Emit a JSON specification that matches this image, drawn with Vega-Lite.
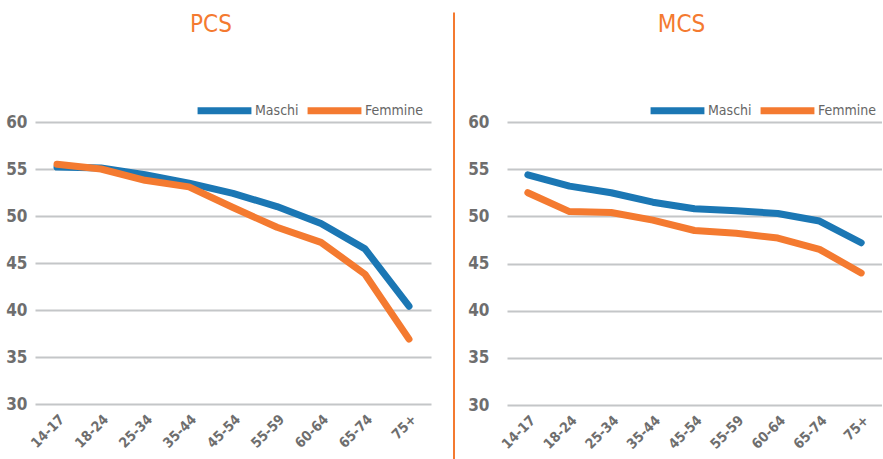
{
  "$schema": "https://vega.github.io/schema/vega-lite/v6.json",
  "padding": {"left": 5, "top": 11, "right": 0, "bottom": 0},
  "background": "white",
  "spacing": 22,
  "config": {
    "font": "DejaVu Sans Condensed, Roboto",
    "view": {"stroke": null},
    "axis": {"labelFont": "DejaVu Sans Condensed, Roboto", "labelColor": "#6e6e6e", "labelFontWeight": "bold", "title": null, "domain": false, "ticks": false},
    "legend": {"labelFont": "DejaVu Sans Condensed, Roboto"},
    "title": {"font": "DejaVu Sans Condensed, Roboto", "color": "#F47A30", "fontSize": 24, "fontWeight": "normal", "baseline": "alphabetic"}
  },
  "datasets": {
    "pcs": [
      {"eta": "14-17", "sesso": "Maschi", "valore": 55.2},
      {"eta": "18-24", "sesso": "Maschi", "valore": 55.1},
      {"eta": "25-34", "sesso": "Maschi", "valore": 54.4},
      {"eta": "35-44", "sesso": "Maschi", "valore": 53.5},
      {"eta": "45-54", "sesso": "Maschi", "valore": 52.4},
      {"eta": "55-59", "sesso": "Maschi", "valore": 51.0},
      {"eta": "60-64", "sesso": "Maschi", "valore": 49.2},
      {"eta": "65-74", "sesso": "Maschi", "valore": 46.5},
      {"eta": "75+", "sesso": "Maschi", "valore": 40.4},
      {"eta": "14-17", "sesso": "Femmine", "valore": 55.5},
      {"eta": "18-24", "sesso": "Femmine", "valore": 55.0},
      {"eta": "25-34", "sesso": "Femmine", "valore": 53.8},
      {"eta": "35-44", "sesso": "Femmine", "valore": 53.1},
      {"eta": "45-54", "sesso": "Femmine", "valore": 50.9},
      {"eta": "55-59", "sesso": "Femmine", "valore": 48.8},
      {"eta": "60-64", "sesso": "Femmine", "valore": 47.2},
      {"eta": "65-74", "sesso": "Femmine", "valore": 43.8},
      {"eta": "75+", "sesso": "Femmine", "valore": 36.9}
    ],
    "mcs": [
      {"eta": "14-17", "sesso": "Maschi", "valore": 54.4},
      {"eta": "18-24", "sesso": "Maschi", "valore": 53.2},
      {"eta": "25-34", "sesso": "Maschi", "valore": 52.5},
      {"eta": "35-44", "sesso": "Maschi", "valore": 51.5},
      {"eta": "45-54", "sesso": "Maschi", "valore": 50.8},
      {"eta": "55-59", "sesso": "Maschi", "valore": 50.6},
      {"eta": "60-64", "sesso": "Maschi", "valore": 50.3},
      {"eta": "65-74", "sesso": "Maschi", "valore": 49.5},
      {"eta": "75+", "sesso": "Maschi", "valore": 47.2},
      {"eta": "14-17", "sesso": "Femmine", "valore": 52.5},
      {"eta": "18-24", "sesso": "Femmine", "valore": 50.5},
      {"eta": "25-34", "sesso": "Femmine", "valore": 50.4},
      {"eta": "35-44", "sesso": "Femmine", "valore": 49.6},
      {"eta": "45-54", "sesso": "Femmine", "valore": 48.5},
      {"eta": "55-59", "sesso": "Femmine", "valore": 48.2},
      {"eta": "60-64", "sesso": "Femmine", "valore": 47.7},
      {"eta": "65-74", "sesso": "Femmine", "valore": 46.5},
      {"eta": "75+", "sesso": "Femmine", "valore": 44.0}
    ],
    "separatore": [{"pos": 0, "top": 71.6, "bottom": 23.5}]
  },
  "resolve": {"scale": {"color": "independent", "x": "independent", "y": "independent"}, "legend": {"color": "independent"}},
  "hconcat": [
    {
      "title": {"text": "PCS", "dx": -22, "offset": 43},
      "width": 396,
      "height": 282,
      "data": {"name": "pcs"},
      "mark": {"type": "line", "strokeWidth": 7, "strokeCap": "round", "strokeJoin": "round"},
      "encoding": {
        "x": {"field": "eta", "type": "ordinal", "sort": null, "scale": {"type": "point", "padding": 0.5},
              "axis": {"labelAngle": -45, "labelFontSize": 14, "labelPadding": 8, "grid": false}},
        "y": {"field": "valore", "type": "quantitative", "scale": {"domain": [30, 60], "nice": false, "zero": false},
              "axis": {"values": [30, 35, 40, 45, 50, 55, 60], "labelFontSize": 17, "labelPadding": 8, "grid": true, "gridColor": "#c4c6c8", "gridWidth": 2}},
        "color": {"field": "sesso", "type": "nominal", "sort": ["Maschi", "Femmine"],
                  "scale": {"domain": ["Maschi", "Femmine"], "range": ["#1B77B4", "#F47A30"]},
                  "legend": {"title": null, "orient": "none", "legendX": 159, "legendY": -42, "direction": "horizontal",
                             "symbolType": "stroke", "symbolSize": 2900, "symbolStrokeWidth": 7, "labelFontSize": 14, "labelColor": "#666666",
                             "labelOffset": 0, "columnPadding": -6}}
      }
    },
    {
      "title": {"text": "MCS", "dx": -13, "offset": -25},
      "width": 375,
      "height": 283,
      "layer": [
        {
          "data": {"name": "separatore"},
          "mark": {"type": "rule", "color": "#F47A30", "strokeWidth": 2, "clip": false},
          "encoding": {
            "x": {"field": "pos", "type": "quantitative", "scale": {"domain": [53, 428], "nice": false, "zero": false}, "axis": null},
            "y": {"field": "top", "type": "quantitative"},
            "y2": {"field": "bottom"}
          }
        },
        {
          "data": {"name": "mcs"},
          "mark": {"type": "line", "strokeWidth": 7, "strokeCap": "round", "strokeJoin": "round"},
          "encoding": {
            "x": {"field": "eta", "type": "ordinal", "sort": null, "scale": {"type": "point", "padding": 0.5},
                  "axis": {"labelAngle": -45, "labelFontSize": 14, "labelPadding": 8, "grid": false}},
            "y": {"field": "valore", "type": "quantitative", "scale": {"domain": [30, 60], "nice": false, "zero": false},
                  "axis": {"values": [30, 35, 40, 45, 50, 55, 60], "labelFontSize": 17, "labelPadding": 18, "grid": true, "gridColor": "#c4c6c8", "gridWidth": 2}},
            "color": {"field": "sesso", "type": "nominal", "sort": ["Maschi", "Femmine"],
                      "scale": {"domain": ["Maschi", "Femmine"], "range": ["#1B77B4", "#F47A30"]},
                      "legend": {"title": null, "orient": "none", "legendX": 140, "legendY": -42, "direction": "horizontal",
                                 "symbolType": "stroke", "symbolSize": 2900, "symbolStrokeWidth": 7, "labelFontSize": 14, "labelColor": "#666666",
                                 "labelOffset": 0, "columnPadding": -6}}
          }
        }
      ],
      "resolve": {"scale": {"x": "independent"}}
    }
  ]
}
